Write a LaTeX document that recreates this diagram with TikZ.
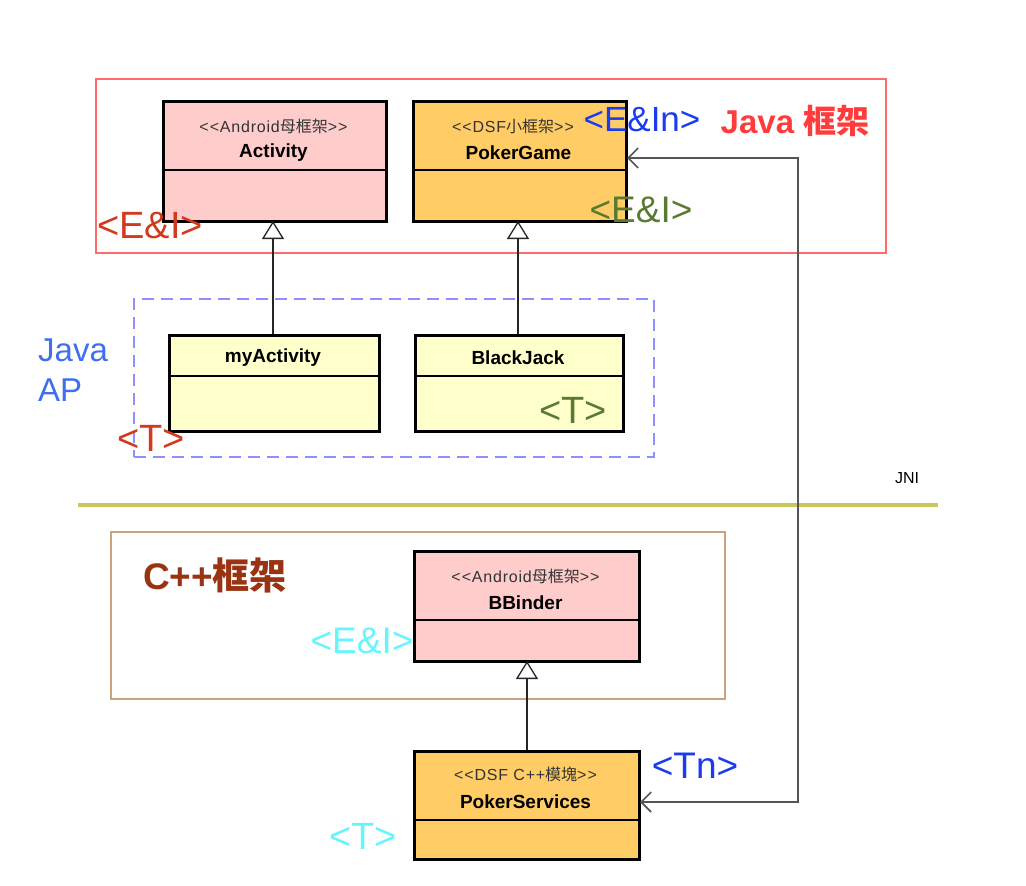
\documentclass[tikz,border=0pt]{standalone}
\usepackage{fontspec}
\setmainfont{Liberation Sans}
\newfontfamily\cjk{Noto Sans CJK TC}
\usetikzlibrary{arrows.meta}
\definecolor{pinkfill}{HTML}{FFCCCC}
\definecolor{orangefill}{HTML}{FFCC66}
\definecolor{yellowfill}{HTML}{FFFFCC}
\definecolor{framered}{HTML}{FF6B6B}
\definecolor{dashblue}{HTML}{8F8FFF}
\definecolor{olive}{HTML}{C8C85A}
\definecolor{tan}{HTML}{C9A27E}
\definecolor{lblblue}{HTML}{1A3BF0}
\definecolor{lblred}{HTML}{FF3B3B}
\definecolor{lbldred}{HTML}{D23A1E}
\definecolor{lblgreen}{HTML}{5A7A32}
\definecolor{lblsky}{HTML}{3F6FF0}
\definecolor{lblcyan}{HTML}{66F5FF}
\definecolor{lblbrown}{HTML}{993311}
\definecolor{conngray}{HTML}{555555}
\newcommand{\lt}{\textless}
\newcommand{\gt}{\textgreater}
\newcommand{\dlt}{\textless\kern1pt\textless}
\newcommand{\dgt}{\textgreater\kern1pt\textgreater}
\tikzset{
  classbox/.style={draw=black, line width=2.6pt, anchor=north west, inner sep=0pt},
  stereo/.style={font=\fontsize{16}{18}\selectfont\addfontfeature{LetterSpace=5}, text=black!80},
  cname/.style={font=\bfseries\fontsize{19}{21}\selectfont},
  divider/.style={draw=black, line width=1.6pt},
  gen/.style={draw=black!85, line width=1.3pt, -{Triangle[open,length=18pt,width=22pt]}},
  tag/.style={font=\fontsize{38}{40}\selectfont, inner sep=0pt},
}
\begin{document}
\begin{tikzpicture}[x=1pt,y=-1pt]
\useasboundingbox (0,0) rectangle (1026,886);
% frames
\node[draw=framered, line width=1.6pt, anchor=north west, minimum width=790pt, minimum height=174pt, inner sep=0pt] (javafw) at (95,78) {};
\node[draw=dashblue, line width=2.2pt, dash pattern=on 12pt off 7pt, anchor=north west, minimum width=520pt, minimum height=158pt, inner sep=0pt] (javaap) at (133,298) {};
\node[draw=tan, line width=1.8pt, anchor=north west, minimum width=614pt, minimum height=167pt, inner sep=0pt] (cppfw) at (110,531) {};
% JNI line
\coordinate (jniL) at (78,505);
\coordinate (jniR) at (938,505);
\draw[olive, line width=4.5pt] (jniL) -- (jniR);
\node[font=\fontsize{16}{18}\selectfont] (jni) at (907,478) {JNI};
% classes
\node[classbox, fill=pinkfill, minimum width=223pt, minimum height=120pt] (act) at (162,100) {};
\draw[divider] (162,170) -- (385,170);
\node[stereo] (actS) at (273.5,126) {\dlt Android{\cjk 母框架}\dgt};
\node[cname] (actN) at (273.5,153) {Activity};

\node[classbox, fill=orangefill, minimum width=213pt, minimum height=120pt] (pg) at (412,100) {};
\draw[divider] (412,170) -- (625,170);
\node[stereo] (pgS) at (513,126) {\dlt DSF{\cjk 小框架}\dgt};
\node[cname] (pgN) at (518.5,153) {PokerGame};

\node[classbox, fill=yellowfill, minimum width=210pt, minimum height=96pt] (myact) at (168,334) {};
\draw[divider] (168,376) -- (378,376);
\node[cname] (myactN) at (273,358) {myActivity};

\node[classbox, fill=yellowfill, minimum width=208pt, minimum height=96pt] (bj) at (414,334) {};
\draw[divider] (414,376) -- (622,376);
\node[cname] (bjN) at (518,358) {BlackJack};

\node[classbox, fill=pinkfill, minimum width=225pt, minimum height=110pt] (bb) at (413,550) {};
\draw[divider] (413,620) -- (638,620);
\node[stereo] (bbS) at (525.5,576) {\dlt Android{\cjk 母框架}\dgt};
\node[cname] (bbN) at (525.5,603) {BBinder};

\node[classbox, fill=orangefill, minimum width=225pt, minimum height=108pt] (ps) at (413,750) {};
\draw[divider] (413,820) -- (638,820);
\node[stereo] (psS) at (525.5,774) {\dlt DSF C++{\cjk 模塊}\dgt};
\node[cname] (psN) at (525.5,802) {PokerServices};

% generalizations
\draw[gen] (myact.north -| 273,0) -- (273,221);
\draw[gen] (bj.north -| 518,0) -- (518,221);
\draw[gen] (ps.north -| 527,0) -- (527,661);

% JNI connector
\coordinate (turnB) at (798,802);
\coordinate (turnT) at (798,158);
\draw[conngray, line width=1.6pt, {Straight Barb[length=10pt,width=20pt]}-{Straight Barb[length=10pt,width=20pt]}] (640,802) -- (turnB) -- (turnT) -- (627,158);

% labels
\node[tag, text=lblblue, font=\fontsize{35}{37}\selectfont] (l1) at (642,120) {\lt E\&In\gt};
\node[tag, text=lblred, font=\bfseries\fontsize{33}{35}\selectfont] (l2) at (795,121) {Java {\cjk 框架}};
\node[tag, text=lbldred] (l3) at (150,226) {\lt E\&I\gt};
\node[tag, text=lblgreen, font=\fontsize{37}{39}\selectfont] (l4) at (641,210) {\lt E\&I\gt};
\node[tag, text=lblsky, anchor=west, align=left, font=\fontsize{33}{40}\selectfont] (l5) at (38,370) {Java\\AP};
\node[tag, text=lbldred] (l6) at (151,438) {\lt T\gt};
\node[tag, text=lblgreen] (l7) at (573,410) {\lt T\gt};
\node[tag, text=lblbrown, font=\bfseries\fontsize{37}{39}\selectfont] (l8) at (215,575) {C++{\cjk 框架}};
\node[tag, text=lblcyan, font=\fontsize{37}{39}\selectfont] (l9) at (362,641) {\lt E\&I\gt};
\node[tag, text=lblblue, font=\fontsize{37}{39}\selectfont] (l10) at (695,766) {\lt Tn\gt};
\node[tag, text=lblcyan] (l11) at (363,836) {\lt T\gt};
\end{tikzpicture}
\end{document}
